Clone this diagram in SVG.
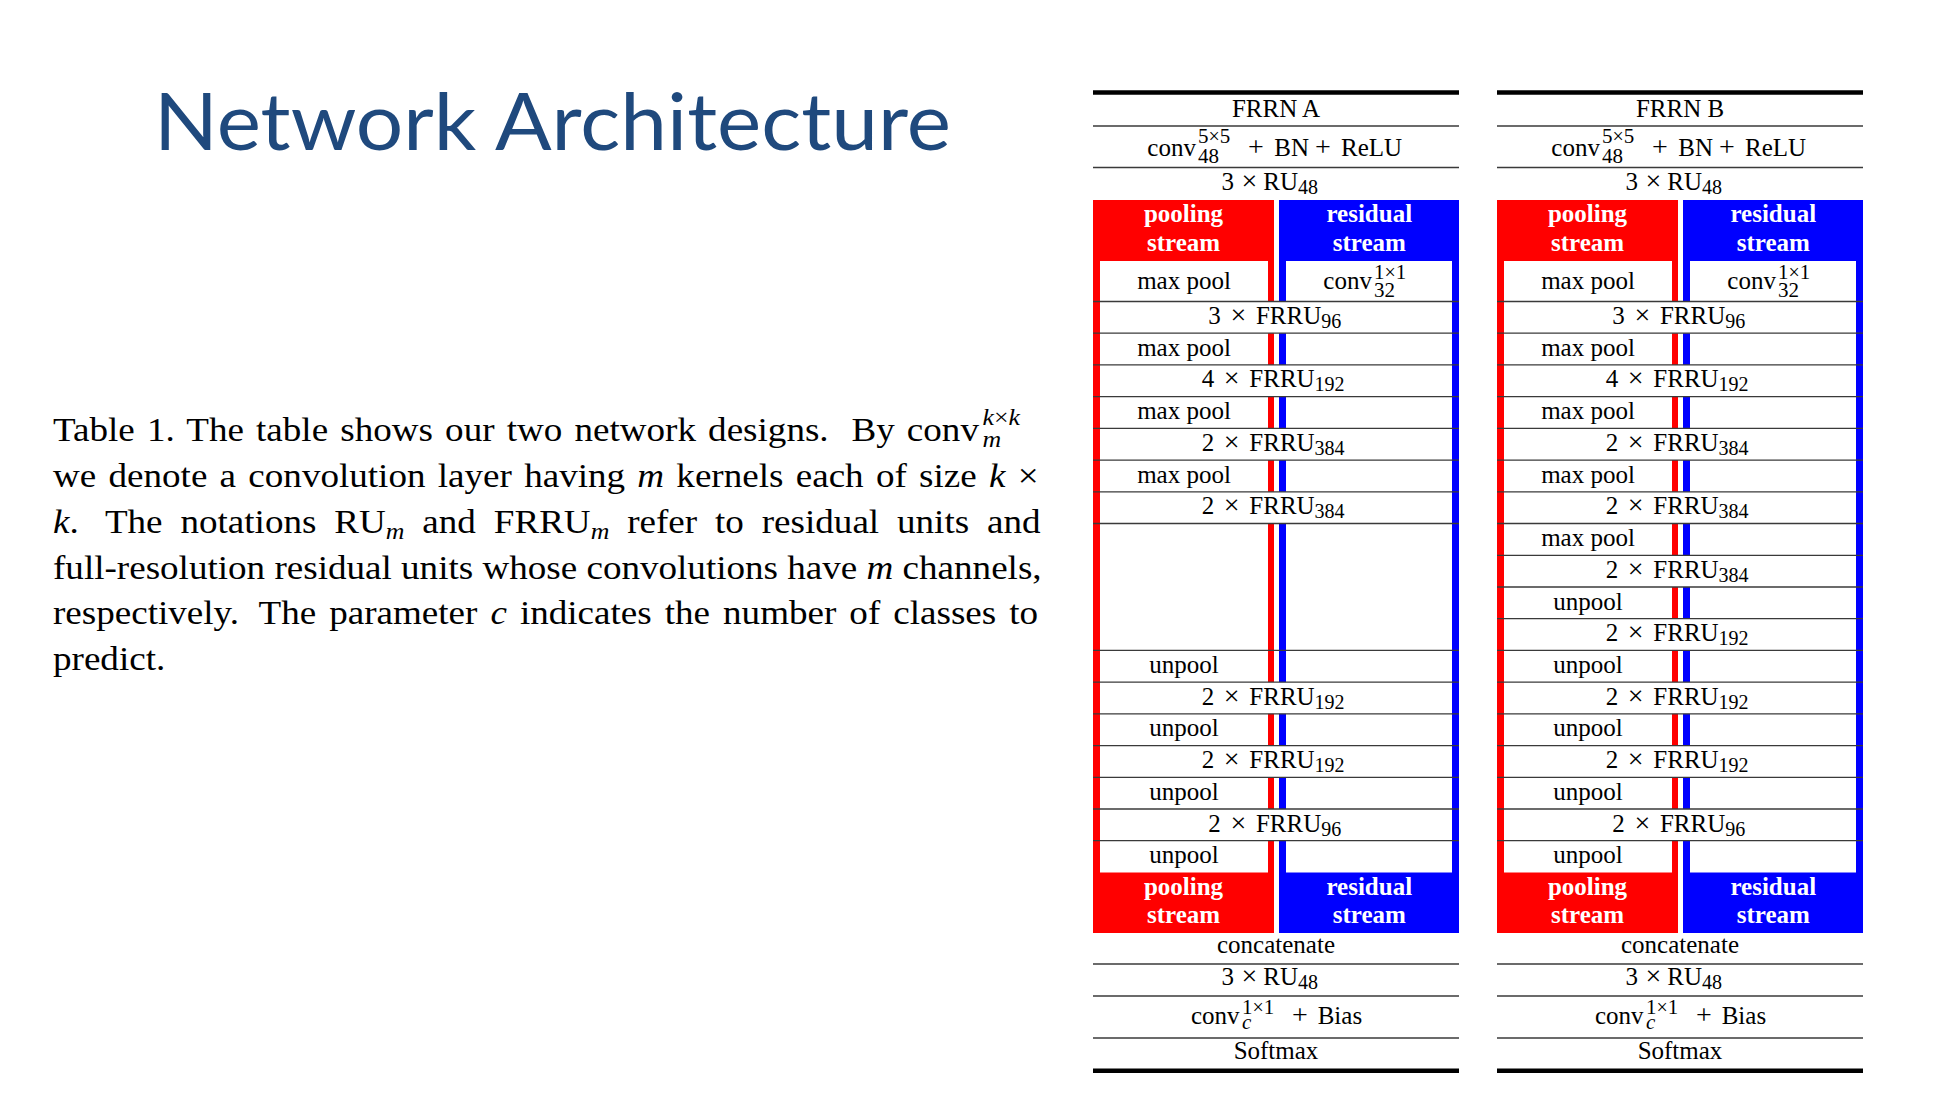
<svg xmlns="http://www.w3.org/2000/svg" width="1960" height="1103" viewBox="0 0 1960 1103">
<style>
.t{font-family:"Liberation Serif","Times New Roman",serif;font-size:25px;fill:#000}
.c{text-anchor:middle}
.s{font-size:20px}
.ss{font-size:21px}
.x{font-size:28px}
.i{font-style:italic}
.h{font-family:"Liberation Serif","Times New Roman",serif;font-size:25px;font-weight:bold;fill:#fff;text-anchor:middle}
.rule{stroke:#3a3a3a;stroke-width:1.3}
.thick{stroke:#000;stroke-width:4.5}
.red{fill:#ff0000}
.blue{fill:#0000ff}
.w{fill:#fff}
.cap{font-family:"Liberation Serif","Times New Roman",serif;font-size:33px;fill:#000}
.sc{font-size:23px}
</style>
<defs>
<g id="frame">
<rect class="red" x="1093" y="200" width="181" height="733"/>
<rect class="blue" x="1279" y="200" width="180" height="733"/>
<rect class="w" x="1100" y="261" width="168" height="611.5"/>
<rect class="w" x="1286" y="261" width="166" height="611.5"/>
<line class="thick" x1="1093" y1="92.5" x2="1459" y2="92.5"/>
<line class="rule" x1="1093" y1="126" x2="1459" y2="126"/>
<line class="rule" x1="1093" y1="167.5" x2="1459" y2="167.5"/>
<line class="rule" x1="1093" y1="964" x2="1459" y2="964"/>
<line class="rule" x1="1093" y1="996" x2="1459" y2="996"/>
<line class="rule" x1="1093" y1="1038" x2="1459" y2="1038"/>
<line class="thick" x1="1093" y1="1070.7" x2="1459" y2="1070.7"/>
<text class="t" y="155.7"><tspan x="1147.3">conv</tspan><tspan class="x" x="1248">+</tspan><tspan x="1274.3">BN</tspan><tspan class="x" x="1315">+</tspan><tspan x="1341">ReLU</tspan></text>
<text class="t ss" x="1198" y="143">5<tspan class="s">×</tspan>5</text>
<text class="t ss" x="1198" y="163">48</text>
<text class="t" y="190"><tspan x="1221.5">3</tspan><tspan class="x" x="1241.5">×</tspan><tspan x="1263.3">RU</tspan><tspan class="s" dy="4">48</tspan></text>
<text class="h" x="1183.5" y="222">pooling</text>
<text class="h" x="1183.5" y="250.7">stream</text>
<text class="h" x="1369.3" y="222">residual</text>
<text class="h" x="1369.3" y="250.7">stream</text>
<text class="t c" x="1184" y="289">max pool</text>
<text class="t" x="1323.3" y="288.5">conv</text>
<text class="t ss" x="1374" y="278.5">1<tspan class="s">×</tspan>1</text>
<text class="t ss" x="1374" y="296.5">32</text>
<text class="h" x="1183.5" y="895">pooling</text>
<text class="h" x="1183.5" y="923">stream</text>
<text class="h" x="1369.3" y="895">residual</text>
<text class="h" x="1369.3" y="923">stream</text>
<text class="t c" x="1276" y="953.3">concatenate</text>
<text class="t" y="985"><tspan x="1221.5">3</tspan><tspan class="x" x="1241.5">×</tspan><tspan x="1263.3">RU</tspan><tspan class="s" dy="4">48</tspan></text>
<text class="t" y="1024"><tspan x="1191">conv</tspan><tspan class="x" x="1292">+</tspan><tspan x="1317.7">Bias</tspan></text>
<text class="t ss" x="1242" y="1013.5">1<tspan class="s">×</tspan>1</text>
<text class="t ss i" x="1242" y="1029">c</text>
<text class="t c" x="1276" y="1059">Softmax</text>
</g>
</defs>

<g id="title">
<text x="154" y="149.5" font-family="Lato, 'Open Sans', sans-serif" font-size="80" fill="#1F497D" textLength="797" lengthAdjust="spacingAndGlyphs">Network Architecture</text>
</g>

<g id="caption" transform="translate(53,0) scale(1.124,1)">
<text class="cap" x="0" y="441.5" word-spacing="2.56">Table 1. The table shows our two network designs.<tspan dx="9.5"> By conv</tspan></text>
<text class="cap sc" x="827" y="425"><tspan class="i">k</tspan>×<tspan class="i">k</tspan></text>
<text class="cap sc i" x="827" y="447">m</text>
<text class="cap" x="0" y="487.2" word-spacing="2.67">we denote a convolution layer having <tspan class="i">m</tspan> kernels each of size <tspan class="i">k</tspan> ×</text>
<text class="cap" x="0" y="532.9" word-spacing="7.66"><tspan class="i">k</tspan>.<tspan dx="8"> The notations RU</tspan><tspan class="sc i" dy="6">m</tspan><tspan dy="-6"> and FRRU</tspan><tspan class="sc i" dy="6">m</tspan><tspan dy="-6"> refer to residual units and</tspan></text>
<text class="cap" x="0" y="578.6">full-resolution residual units whose convolutions have <tspan class="i">m</tspan> channels,</text>
<text class="cap" x="0" y="624.3" word-spacing="3.34">respectively.<tspan dx="6.4"> The parameter </tspan><tspan class="i">c</tspan> indicates the number of classes to</text>
<text class="cap" x="0" y="670">predict.</text>
</g>

<g id="table-a">
<use href="#frame"/>
<text class="t c" x="1276" y="117">FRRN A</text>
<rect class="w" x="1100" y="301.5" width="352" height="31.72"/>
<rect class="w" x="1100" y="364.9" width="352" height="31.72"/>
<rect class="w" x="1100" y="428.4" width="352" height="31.72"/>
<rect class="w" x="1100" y="491.8" width="352" height="31.72"/>
<rect class="w" x="1100" y="682.1" width="352" height="31.72"/>
<rect class="w" x="1100" y="745.6" width="352" height="31.72"/>
<rect class="w" x="1100" y="809.0" width="352" height="31.72"/>
<line class="rule" x1="1093" y1="301.5" x2="1459" y2="301.5"/>
<line class="rule" x1="1093" y1="333.2" x2="1459" y2="333.2"/>
<line class="rule" x1="1093" y1="364.9" x2="1459" y2="364.9"/>
<line class="rule" x1="1093" y1="396.7" x2="1459" y2="396.7"/>
<line class="rule" x1="1093" y1="428.4" x2="1459" y2="428.4"/>
<line class="rule" x1="1093" y1="460.1" x2="1459" y2="460.1"/>
<line class="rule" x1="1093" y1="491.8" x2="1459" y2="491.8"/>
<line class="rule" x1="1093" y1="523.5" x2="1459" y2="523.5"/>
<line class="rule" x1="1093" y1="650.4" x2="1459" y2="650.4"/>
<line class="rule" x1="1093" y1="682.1" x2="1459" y2="682.1"/>
<line class="rule" x1="1093" y1="713.9" x2="1459" y2="713.9"/>
<line class="rule" x1="1093" y1="745.6" x2="1459" y2="745.6"/>
<line class="rule" x1="1093" y1="777.3" x2="1459" y2="777.3"/>
<line class="rule" x1="1093" y1="809.0" x2="1459" y2="809.0"/>
<line class="rule" x1="1093" y1="840.7" x2="1459" y2="840.7"/>
<text class="t" y="324"><tspan x="1208.3">3</tspan><tspan class="x" x="1230.4">×</tspan><tspan x="1255.9">FRRU</tspan><tspan class="s" dy="4">96</tspan></text>
<text class="t c" x="1184" y="355.7">max pool</text>
<text class="t" y="387.4"><tspan x="1201.7">4</tspan><tspan class="x" x="1223.8">×</tspan><tspan x="1249.3">FRRU</tspan><tspan class="s" dy="4">192</tspan></text>
<text class="t c" x="1184" y="419.2">max pool</text>
<text class="t" y="450.9"><tspan x="1201.7">2</tspan><tspan class="x" x="1223.8">×</tspan><tspan x="1249.3">FRRU</tspan><tspan class="s" dy="4">384</tspan></text>
<text class="t c" x="1184" y="482.6">max pool</text>
<text class="t" y="514.3"><tspan x="1201.7">2</tspan><tspan class="x" x="1223.8">×</tspan><tspan x="1249.3">FRRU</tspan><tspan class="s" dy="4">384</tspan></text>
<text class="t c" x="1184" y="672.9">unpool</text>
<text class="t" y="704.6"><tspan x="1201.7">2</tspan><tspan class="x" x="1223.8">×</tspan><tspan x="1249.3">FRRU</tspan><tspan class="s" dy="4">192</tspan></text>
<text class="t c" x="1184" y="736.4">unpool</text>
<text class="t" y="768.1"><tspan x="1201.7">2</tspan><tspan class="x" x="1223.8">×</tspan><tspan x="1249.3">FRRU</tspan><tspan class="s" dy="4">192</tspan></text>
<text class="t c" x="1184" y="799.8">unpool</text>
<text class="t" y="831.5"><tspan x="1208.3">2</tspan><tspan class="x" x="1230.4">×</tspan><tspan x="1255.9">FRRU</tspan><tspan class="s" dy="4">96</tspan></text>
<text class="t c" x="1184" y="863.2">unpool</text>
</g>

<g id="table-b" transform="translate(404,0)">
<use href="#frame"/>
<text class="t c" x="1276" y="117">FRRN B</text>
<rect class="w" x="1100" y="301.5" width="352" height="31.72"/>
<rect class="w" x="1100" y="364.9" width="352" height="31.72"/>
<rect class="w" x="1100" y="428.4" width="352" height="31.72"/>
<rect class="w" x="1100" y="491.8" width="352" height="31.72"/>
<rect class="w" x="1100" y="555.3" width="352" height="31.72"/>
<rect class="w" x="1100" y="618.7" width="352" height="31.72"/>
<rect class="w" x="1100" y="682.1" width="352" height="31.72"/>
<rect class="w" x="1100" y="745.6" width="352" height="31.72"/>
<rect class="w" x="1100" y="809.0" width="352" height="31.72"/>
<line class="rule" x1="1093" y1="301.5" x2="1459" y2="301.5"/>
<line class="rule" x1="1093" y1="333.2" x2="1459" y2="333.2"/>
<line class="rule" x1="1093" y1="364.9" x2="1459" y2="364.9"/>
<line class="rule" x1="1093" y1="396.7" x2="1459" y2="396.7"/>
<line class="rule" x1="1093" y1="428.4" x2="1459" y2="428.4"/>
<line class="rule" x1="1093" y1="460.1" x2="1459" y2="460.1"/>
<line class="rule" x1="1093" y1="491.8" x2="1459" y2="491.8"/>
<line class="rule" x1="1093" y1="523.5" x2="1459" y2="523.5"/>
<line class="rule" x1="1093" y1="555.3" x2="1459" y2="555.3"/>
<line class="rule" x1="1093" y1="587.0" x2="1459" y2="587.0"/>
<line class="rule" x1="1093" y1="618.7" x2="1459" y2="618.7"/>
<line class="rule" x1="1093" y1="650.4" x2="1459" y2="650.4"/>
<line class="rule" x1="1093" y1="682.1" x2="1459" y2="682.1"/>
<line class="rule" x1="1093" y1="713.9" x2="1459" y2="713.9"/>
<line class="rule" x1="1093" y1="745.6" x2="1459" y2="745.6"/>
<line class="rule" x1="1093" y1="777.3" x2="1459" y2="777.3"/>
<line class="rule" x1="1093" y1="809.0" x2="1459" y2="809.0"/>
<line class="rule" x1="1093" y1="840.7" x2="1459" y2="840.7"/>
<text class="t" y="324"><tspan x="1208.3">3</tspan><tspan class="x" x="1230.4">×</tspan><tspan x="1255.9">FRRU</tspan><tspan class="s" dy="4">96</tspan></text>
<text class="t c" x="1184" y="355.7">max pool</text>
<text class="t" y="387.4"><tspan x="1201.7">4</tspan><tspan class="x" x="1223.8">×</tspan><tspan x="1249.3">FRRU</tspan><tspan class="s" dy="4">192</tspan></text>
<text class="t c" x="1184" y="419.2">max pool</text>
<text class="t" y="450.9"><tspan x="1201.7">2</tspan><tspan class="x" x="1223.8">×</tspan><tspan x="1249.3">FRRU</tspan><tspan class="s" dy="4">384</tspan></text>
<text class="t c" x="1184" y="482.6">max pool</text>
<text class="t" y="514.3"><tspan x="1201.7">2</tspan><tspan class="x" x="1223.8">×</tspan><tspan x="1249.3">FRRU</tspan><tspan class="s" dy="4">384</tspan></text>
<text class="t c" x="1184" y="546.0">max pool</text>
<text class="t" y="577.8"><tspan x="1201.7">2</tspan><tspan class="x" x="1223.8">×</tspan><tspan x="1249.3">FRRU</tspan><tspan class="s" dy="4">384</tspan></text>
<text class="t c" x="1184" y="609.5">unpool</text>
<text class="t" y="641.2"><tspan x="1201.7">2</tspan><tspan class="x" x="1223.8">×</tspan><tspan x="1249.3">FRRU</tspan><tspan class="s" dy="4">192</tspan></text>
<text class="t c" x="1184" y="672.9">unpool</text>
<text class="t" y="704.6"><tspan x="1201.7">2</tspan><tspan class="x" x="1223.8">×</tspan><tspan x="1249.3">FRRU</tspan><tspan class="s" dy="4">192</tspan></text>
<text class="t c" x="1184" y="736.4">unpool</text>
<text class="t" y="768.1"><tspan x="1201.7">2</tspan><tspan class="x" x="1223.8">×</tspan><tspan x="1249.3">FRRU</tspan><tspan class="s" dy="4">192</tspan></text>
<text class="t c" x="1184" y="799.8">unpool</text>
<text class="t" y="831.5"><tspan x="1208.3">2</tspan><tspan class="x" x="1230.4">×</tspan><tspan x="1255.9">FRRU</tspan><tspan class="s" dy="4">96</tspan></text>
<text class="t c" x="1184" y="863.2">unpool</text>
</g>

<g id="connectors"/>
</svg>
